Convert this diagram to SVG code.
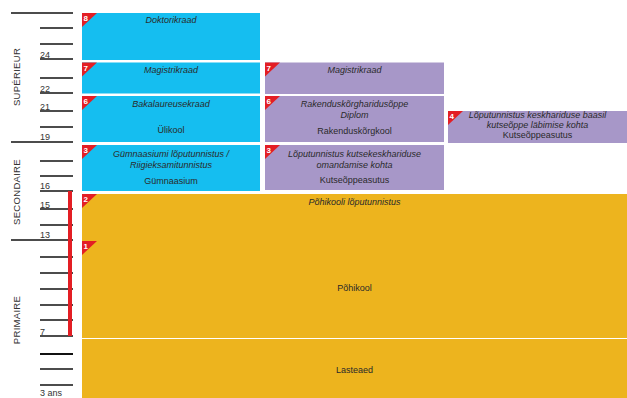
<svg xmlns="http://www.w3.org/2000/svg" width="627" height="398" viewBox="0 0 627 398">
<defs>
<style>
.blue{fill:#15bef0}
.purple{fill:#a797c8}
.yellow{fill:#edb41e}
.tri{fill:#e31e24}
.num{fill:#fff;font-family:"Liberation Sans",Arial,sans-serif;font-size:8px;font-weight:bold}
.it{fill:#2a2a2a;font-family:"Liberation Sans",Arial,sans-serif;font-size:9px;font-style:italic;text-anchor:middle}
.rg{fill:#2a2a2a;font-family:"Liberation Sans",Arial,sans-serif;font-size:9px;text-anchor:middle}
.ax{fill:#333;font-family:"Liberation Sans",Arial,sans-serif;font-size:9px}
.lvl{fill:#333;font-family:"Liberation Sans",Arial,sans-serif;font-size:9.5px;text-anchor:middle;letter-spacing:0.3px}
.tick{stroke:#111;stroke-width:1.3}
</style>
<path id="t" d="M0,0 H15 L0,14 Z"/>
</defs>
<rect width="627" height="398" fill="#fff"/>

<g id="axis">
<g class="tick">
<line x1="11" y1="13" x2="73" y2="13"/>
<line x1="40" y1="28" x2="73" y2="28"/>
<line x1="40" y1="44" x2="73" y2="44"/>
<line x1="40" y1="59" x2="73" y2="59"/>
<line x1="40" y1="78" x2="73" y2="78"/>
<line x1="40" y1="93" x2="73" y2="93"/>
<line x1="40" y1="111" x2="73" y2="111"/>
<line x1="40" y1="127" x2="73" y2="127"/>
<line x1="11" y1="142" x2="73" y2="142"/>
<line x1="40" y1="161" x2="73" y2="161"/>
<line x1="40" y1="176" x2="73" y2="176"/>
<line x1="40" y1="191" x2="73" y2="191"/>
<line x1="40" y1="209" x2="73" y2="209"/>
<line x1="40" y1="225" x2="73" y2="225"/>
<line x1="11" y1="240" x2="73" y2="240"/>
<line x1="40" y1="257" x2="73" y2="257"/>
<line x1="40" y1="273" x2="73" y2="273"/>
<line x1="40" y1="289" x2="73" y2="289"/>
<line x1="40" y1="305" x2="73" y2="305"/>
<line x1="40" y1="320" x2="73" y2="320"/>
<line x1="40" y1="336" x2="73" y2="336"/>
<line x1="40" y1="354" x2="73" y2="354" stroke-width="2"/>
<line x1="40" y1="369" x2="73" y2="369"/>
<line x1="40" y1="385" x2="73" y2="385"/>
</g>
<rect x="68" y="191" width="4" height="145" fill="#e31e24"/>
<text class="ax" x="40" y="57.5">24</text>
<text class="ax" x="40" y="91.5">22</text>
<text class="ax" x="40" y="109.5">21</text>
<text class="ax" x="40" y="139.5">19</text>
<text class="ax" x="40" y="189">16</text>
<text class="ax" x="40" y="207.5">15</text>
<text class="ax" x="40" y="238">13</text>
<text class="ax" x="40" y="334.5">7</text>
<text class="ax" x="40" y="395.5">3 ans</text>
<text class="lvl" transform="translate(20,77) rotate(-90)">SUPÉRIEUR</text>
<text class="lvl" transform="translate(20,192) rotate(-90)">SECONDAIRE</text>
<text class="lvl" transform="translate(20,320) rotate(-90)">PRIMAIRE</text>
</g>

<g id="doktorikraad">
<rect class="blue" x="82" y="13" width="178" height="47"/>
<use href="#t" class="tri" x="82" y="13"/><text class="num" x="83.5" y="21">8</text>
<text class="it" x="171" y="23">Doktorikraad</text>
</g>

<g id="magistrikraad-ylikool">
<rect class="blue" x="82" y="62.5" width="178" height="31"/>
<use href="#t" class="tri" x="82" y="62.5"/><text class="num" x="83.5" y="70.5">7</text>
<text class="it" x="171" y="73">Magistrikraad</text>
</g>

<g id="bakalaureusekraad">
<rect class="blue" x="82" y="96" width="178" height="46"/>
<use href="#t" class="tri" x="82" y="96"/><text class="num" x="83.5" y="104">6</text>
<text class="it" x="171" y="107">Bakalaureusekraad</text>
<text class="rg" x="171" y="133">Ülikool</text>
</g>

<g id="gymnaasium">
<rect class="blue" x="82" y="145" width="178" height="46"/>
<use href="#t" class="tri" x="82" y="145"/><text class="num" x="83.5" y="153">3</text>
<text class="it" x="171" y="156.5">Gümnaasiumi lõputunnistus /</text>
<text class="it" x="171" y="167.5">Riigieksamitunnistus</text>
<text class="rg" x="171" y="183.5">Gümnaasium</text>
</g>

<g id="magistrikraad-rakendus">
<rect class="purple" x="265" y="62.5" width="179" height="31.5"/>
<use href="#t" class="tri" x="265" y="62.5"/><text class="num" x="266.5" y="70.5">7</text>
<text class="it" x="354.5" y="73">Magistrikraad</text>
</g>

<g id="rakenduskorgkool">
<rect class="purple" x="265" y="96" width="179" height="46"/>
<use href="#t" class="tri" x="265" y="96"/><text class="num" x="266.5" y="104">6</text>
<text class="it" x="354.5" y="106.5">Rakenduskõrgharidusõppe</text>
<text class="it" x="354.5" y="118">Diplom</text>
<text class="rg" x="354.5" y="134">Rakenduskõrgkool</text>
</g>

<g id="kutseoppeasutus-3">
<rect class="purple" x="265" y="145" width="179" height="45"/>
<use href="#t" class="tri" x="265" y="145"/><text class="num" x="266.5" y="153">3</text>
<text class="it" x="354.5" y="156.5">Lõputunnistus kutsekeskhariduse</text>
<text class="it" x="354.5" y="168">omandamise kohta</text>
<text class="rg" x="354.5" y="183">Kutseõppeasutus</text>
</g>

<g id="kutseoppeasutus-4">
<rect class="purple" x="448" y="111" width="179" height="32"/>
<use href="#t" class="tri" x="448" y="111"/><text class="num" x="449.5" y="119">4</text>
<text class="it" x="537.5" y="117.5">Lõputunnistus keskhariduse baasil</text>
<text class="it" x="537.5" y="128">kutseõppe läbimise kohta</text>
<text class="rg" x="537.5" y="138">Kutseõppeasutus</text>
</g>

<g id="pohikool">
<rect class="yellow" x="82" y="194" width="545" height="144"/>
<use href="#t" class="tri" x="82" y="194"/><text class="num" x="83.5" y="202">2</text>
<use href="#t" class="tri" x="82" y="241"/><text class="num" x="83.5" y="249">1</text>
<text class="it" x="354.5" y="205">Põhikooli lõputunnistus</text>
<text class="rg" x="354.5" y="291">Põhikool</text>
</g>

<g id="lasteaed">
<rect class="yellow" x="82" y="339" width="545" height="59"/>
<text class="rg" x="354.5" y="373">Lasteaed</text>
</g>

<g id="connectors"></g>
</svg>
